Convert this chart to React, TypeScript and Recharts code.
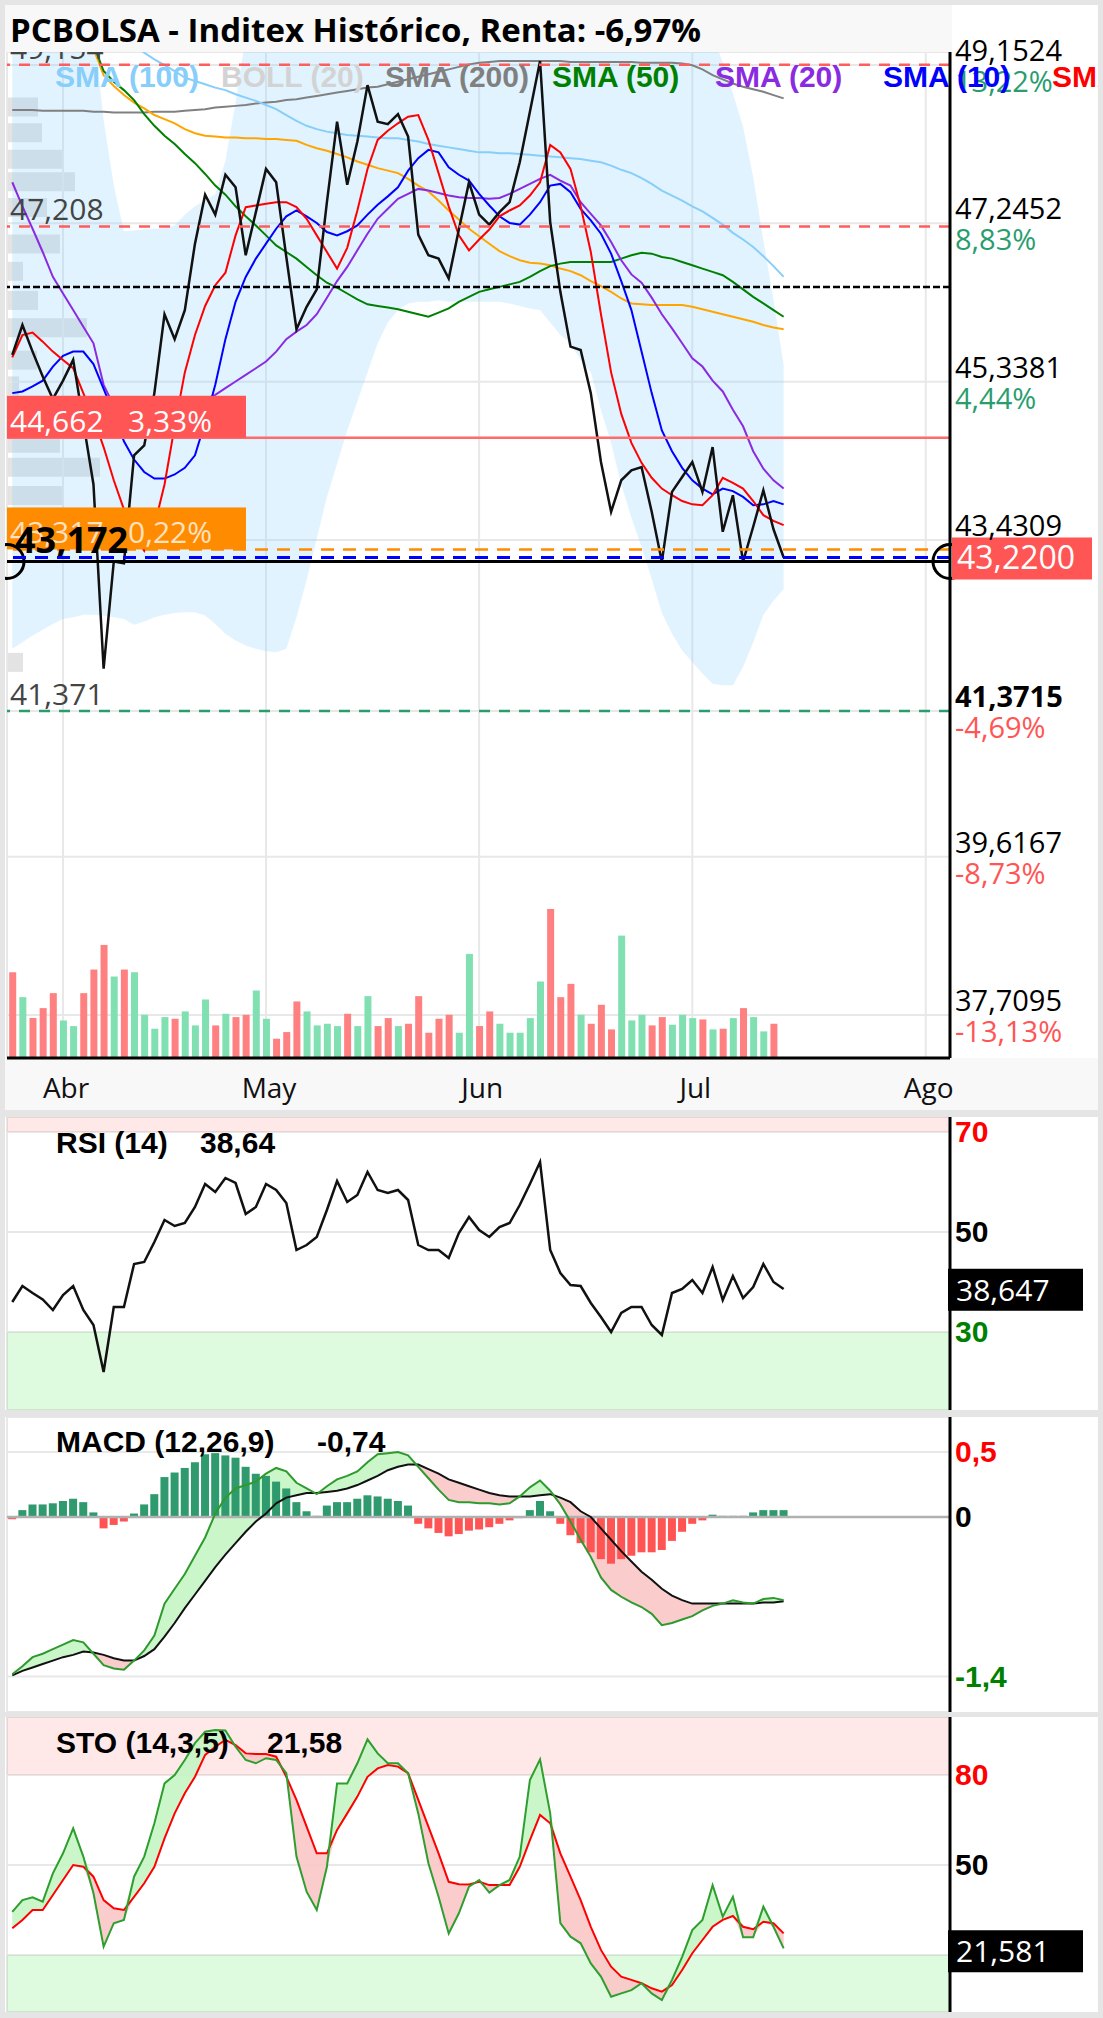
import React from 'react'
import {
  ComposedChart,
  Line,
  Area,
  Bar,
  Cell,
  XAxis,
  YAxis,
  CartesianGrid,
  ReferenceLine,
  ReferenceArea,
} from 'recharts'

// x = trading-session index, 0 = 1 Apr 2025 (first session shown is 5 sessions earlier)
const FIRST_DAY = -5

const monthTicks = [0, 20, 41, 62, 85]
const monthLabels = ['Abr', 'May', 'Jun', 'Jul', 'Ago']

const close = [
  45.66, 46.02, 45.7, 45.4, 45.13, 45.35, 45.6, 44.85, 44.1, 41.88,
  43.17, 43.15, 44.45, 44.57, 45.2, 46.15, 45.85, 46.2, 47.0, 47.59,
  47.35, 47.83, 47.68, 46.86, 47.38, 47.9, 47.74, 46.84, 45.97, 46.24,
  46.45, 47.5, 48.47, 47.71, 48.23, 48.91, 48.47, 48.44, 48.56, 48.29,
  47.11, 46.86, 46.82, 46.58, 47.17, 47.74, 47.35, 47.23, 47.38, 47.5,
  47.98, 48.59, 49.2, 47.26, 46.42, 45.76, 45.72, 45.2, 44.37, 43.77,
  44.15, 44.27, 44.31, 43.77, 43.17, 44.01, 44.19, 44.37, 44.01, 44.55,
  43.53, 43.97, 43.17, 43.59, 44.03, 43.56, 43.22,
]

const bollUpper = [
  49.7, 49.7, 49.7, 49.7, 49.7, 49.7, 49.7, 49.7, 49.6, 48.49,
  47.7, 47.15, 47.16, 47.17, 47.18, 47.19, 47.22, 47.35, 47.45, 47.52,
  47.6, 48.0, 48.7, 49.5, 49.9, 50.2, 50.4, 50.5, 50.5, 50.4,
  50.3, 50.3, 50.4, 50.5, 50.6, 50.7, 50.8, 50.8, 50.7, 50.6,
  50.4, 50.2, 50.0, 49.9, 49.8, 49.8, 49.8, 49.8, 49.8, 49.9,
  50.1, 50.4, 50.6, 50.7, 50.7, 50.6, 50.5, 50.3, 50.1, 49.9,
  49.8, 49.7, 49.6, 49.6, 49.55, 49.55, 49.5, 49.5, 49.5, 49.5,
  49.19, 48.81, 48.41, 47.8, 47.04, 46.32, 45.54,
]

const bollLower = [
  42.12, 42.2, 42.28, 42.35, 42.42, 42.48, 42.5, 42.53, 42.53, 42.52,
  42.5, 42.48, 42.41, 42.45, 42.5, 42.53, 42.55, 42.56, 42.56, 42.52,
  42.42, 42.3, 42.22, 42.16, 42.12, 42.09, 42.08, 42.12, 42.5, 42.95,
  43.45, 43.95, 44.35, 44.75, 45.1, 45.45, 45.8, 46.05, 46.2, 46.28,
  46.3, 46.3, 46.32, 46.3, 46.3, 46.3, 46.3, 46.3, 46.3, 46.28,
  46.25, 46.22, 46.2, 46.05, 45.9, 45.8, 45.6, 45.45, 45.0, 44.6,
  44.1, 43.7, 43.35, 42.96, 42.55, 42.3, 42.1, 41.96, 41.82, 41.7,
  41.68, 41.68, 41.9, 42.2, 42.53, 42.7, 42.84,
]

const smaRed = [
  45.63, 45.9, 45.93, 45.82, 45.7, 45.6, 45.5, 45.2, 44.9, 44.55,
  44.15, 43.8, 43.5, 43.3, 43.6, 44.1, 44.8, 45.45, 45.9, 46.25,
  46.5, 46.65, 47.1, 47.44, 47.46, 47.48, 47.5, 47.5, 47.44, 47.3,
  47.1, 46.9, 46.7, 46.95, 47.4, 47.9, 48.25, 48.36, 48.45, 48.53,
  48.55, 48.25, 47.85, 47.45, 47.1, 46.92, 47.05, 47.17, 47.33, 47.4,
  47.46, 47.58, 47.74, 48.19, 48.1, 47.9, 47.45, 46.9, 46.15, 45.45,
  44.95, 44.6, 44.36, 44.18, 44.05, 43.97, 43.9, 43.86, 43.85, 43.97,
  44.18, 44.12, 44.05, 43.9, 43.73, 43.66, 43.61,
]

const sma10 = [
  45.2, 45.22, 45.28, 45.35, 45.52, 45.65, 45.7, 45.7, 45.55, 45.25,
  44.95, 44.62, 44.4, 44.25, 44.17, 44.17, 44.22, 44.3, 44.45, 44.85,
  45.3, 45.85, 46.3, 46.6, 46.82, 47.0, 47.18, 47.33, 47.4, 47.33,
  47.25, 47.14, 47.1, 47.15, 47.22, 47.35, 47.47, 47.57, 47.68, 47.88,
  48.03, 48.13, 48.1, 47.92, 47.83, 47.76, 47.6, 47.46, 47.33, 47.25,
  47.23, 47.35, 47.5, 47.7, 47.72, 47.62, 47.42, 47.28, 47.12, 46.88,
  46.55, 46.2, 45.7, 45.2, 44.75, 44.5, 44.3, 44.15, 44.05, 43.98,
  44.05, 44.02, 43.95, 43.85, 43.86, 43.9, 43.86,
]

const sma20 = [
  47.74, 47.45, 47.18, 46.9, 46.6, 46.4, 46.2, 46.0, 45.8, 45.3,
  45.05, 44.95, 44.9, 44.88, 44.88, 44.9, 44.95, 45.0, 45.05, 45.12,
  45.18, 45.26, 45.34, 45.42, 45.5, 45.58, 45.7, 45.85, 45.94, 46.02,
  46.15, 46.35, 46.55, 46.72, 46.92, 47.12, 47.3, 47.42, 47.54, 47.6,
  47.66, 47.64, 47.61, 47.58, 47.56, 47.55, 47.55, 47.54, 47.55, 47.6,
  47.66, 47.72, 47.78, 47.83, 47.76, 47.7, 47.5, 47.36, 47.22, 47.02,
  46.8, 46.63, 46.53, 46.35, 46.15, 45.98, 45.8, 45.62, 45.52, 45.35,
  45.22, 45.0, 44.8, 44.5, 44.29, 44.15, 44.05,
]

const sma50 = [
  null, null, null, null, null, null, null, null, 49.4, 49.08,
  48.95, 48.85, 48.73, 48.56, 48.42, 48.3, 48.2, 48.08, 47.97, 47.84,
  47.7, 47.59, 47.45, 47.33, 47.22, 47.1, 46.98, 46.9, 46.82, 46.72,
  46.62, 46.53, 46.47, 46.4, 46.33, 46.27, 46.25, 46.23, 46.21, 46.18,
  46.15, 46.12, 46.17, 46.22, 46.3, 46.36, 46.42, 46.45, 46.48, 46.51,
  46.54, 46.6, 46.67, 46.73, 46.76, 46.78, 46.78, 46.78, 46.78, 46.78,
  46.82, 46.86, 46.89, 46.88, 46.84, 46.82, 46.78, 46.74, 46.7, 46.66,
  46.62, 46.54, 46.45, 46.36, 46.28, 46.2, 46.12,
]

const smaOrange = [
  null, null, null, null, null, null, null, null, 49.35, 49.03,
  48.9, 48.79, 48.7, 48.63, 48.55, 48.5, 48.45, 48.38, 48.33, 48.3,
  48.29, 48.28, 48.28, 48.27, 48.27, 48.26, 48.26, 48.25, 48.24, 48.19,
  48.15, 48.12, 48.08, 48.04, 47.99, 47.95, 47.91, 47.88, 47.85, 47.78,
  47.7, 47.63, 47.52, 47.4, 47.29, 47.18, 47.09, 47.0, 46.91, 46.85,
  46.8, 46.77, 46.76, 46.74, 46.7, 46.67, 46.62, 46.55, 46.49, 46.42,
  46.34, 46.28, 46.27, 46.26, 46.26, 46.26, 46.26, 46.24, 46.21, 46.18,
  46.15, 46.12, 46.09, 46.06, 46.02, 45.99, 45.97,
]

const sma100 = [
  null, null, null, null, null, null, null, null, null, null,
  null, 49.5, 49.38, 49.3, 49.22, 49.15, 49.08, 49.0, 48.96, 48.92,
  48.88, 48.85, 48.8, 48.76, 48.72, 48.67, 48.62, 48.55, 48.48, 48.42,
  48.38, 48.35, 48.33, 48.31, 48.3, 48.29, 48.28, 48.27, 48.27, 48.25,
  48.23, 48.2, 48.18, 48.16, 48.14, 48.12, 48.1, 48.1, 48.09, 48.09,
  48.08, 48.07, 48.06, 48.05, 48.04, 48.03, 48.02, 48.0, 47.98, 47.94,
  47.89, 47.85, 47.79, 47.72, 47.64, 47.58, 47.52, 47.45, 47.39, 47.31,
  47.23, 47.13, 47.05, 46.96, 46.85, 46.73, 46.6,
]

const sma200 = [
  48.61, 48.61, 48.61, 48.6, 48.6, 48.6, 48.6, 48.6, 48.59, 48.59,
  48.58, 48.58, 48.58, 48.58, 48.59, 48.59, 48.59, 48.6, 48.61, 48.62,
  48.64, 48.65, 48.66, 48.67, 48.69, 48.7, 48.71, 48.73, 48.74, 48.76,
  48.78, 48.8, 48.82, 48.84, 48.86, 48.88, 48.89, 48.92, 48.95, 48.98,
  49.01, 49.04, 49.07, 49.1, 49.13, 49.16, 49.18, 49.19, 49.2, 49.2,
  49.2, 49.2, 49.2, 49.2, 49.2, 49.19, 49.19, 49.19, 49.19, 49.19,
  49.19, 49.19, 49.18, 49.18, 49.18, 49.18, 49.17, 49.15, 49.1, 49.03,
  48.98, 48.93, 48.89, 48.86, 48.83, 48.79, 48.75,
]

// volume in millions of shares; 1 = up session (green), 0 = down (red)
const volume = [
  5.16, 3.66, 2.4, 3.0, 3.9, 2.26, 1.92, 3.9, 5.32, 6.8,
  4.9, 5.32, 5.16, 2.6, 1.76, 2.46, 2.36, 2.8, 1.96, 3.52,
  1.96, 2.66, 2.46, 2.6, 4.06, 2.36, 1.16, 1.56, 3.4, 2.8,
  1.96, 2.06, 1.92, 2.66, 1.92, 3.72, 1.92, 2.4, 1.92, 2.06,
  3.72, 1.52, 2.36, 2.6, 1.52, 6.26, 1.92, 2.8, 2.06, 1.52,
  1.52, 2.4, 4.6, 8.96, 3.66, 4.46, 2.6, 2.06, 3.2, 1.72,
  7.36, 2.26, 2.6, 1.96, 2.46, 2.0, 2.6, 2.4, 2.32, 1.72,
  1.76, 2.4, 3.0, 2.46, 1.6, 2.06, null,
]
const volumeUp = [
  0, 1, 0, 0, 0, 1, 1, 0, 0, 0,
  1, 0, 1, 1, 1, 1, 0, 1, 1, 1,
  0, 1, 0, 0, 1, 1, 0, 0, 0, 1,
  1, 1, 1, 0, 1, 1, 0, 0, 1, 0,
  0, 0, 0, 0, 1, 1, 0, 0, 1, 1,
  1, 1, 1, 0, 0, 0, 1, 0, 0, 0,
  1, 1, 1, 0, 0, 1, 1, 1, 0, 1,
  0, 1, 0, 1, 1, 0, 0,
]

// volume-by-price profile on the left edge
const profileLevels = [48.65, 48.34, 48.02, 47.75, 47.44, 47.0, 46.67, 46.32, 45.99, 45.6, 45.29, 44.6, 44.31, 43.97, 41.96]
const profileVolume = [31, 35, 56, 68, 40, 53, 16, 31, 80, 30, 12, 53, 93, 55, 16]

const rsi = [
  36, 39.2, 37.8, 36.5, 34.4, 37.4, 39.2, 34.4, 31.4, 22,
  35, 35, 43.6, 44, 48, 52.4, 51.2, 51.8, 55, 59.6,
  58, 60.8, 59.8, 53.6, 55, 59.6, 58.4, 55.8, 46.4, 47.4,
  49, 54.4, 60.2, 56, 57.4, 62, 58.4, 57.8, 58.4, 56.4,
  47.4, 46.4, 46.4, 44.8, 49.8, 53, 50.4, 49, 51, 51.8,
  55.4, 59.6, 64, 46.4, 41.8, 39.4, 39.2, 35.8, 33, 30,
  33.8, 35, 35, 31.4, 29.4, 37.8, 38.6, 40.4, 37.8, 43,
  36.4, 41.2, 36.8, 39, 43.6, 40, 38.6,
]

const macd = [
  -1.38, -1.31, -1.23, -1.2, -1.16, -1.12, -1.08, -1.1, -1.2, -1.3,
  -1.33, -1.34, -1.26, -1.17, -1.04, -0.76, -0.63, -0.5, -0.34, -0.18,
  0.03, 0.17, 0.25, 0.28, 0.31, 0.38, 0.43, 0.4, 0.3, 0.25,
  0.2, 0.27, 0.33, 0.36, 0.4, 0.48, 0.55, 0.56, 0.57, 0.54,
  0.44, 0.34, 0.24, 0.15, 0.13, 0.13, 0.12, 0.12, 0.11, 0.12,
  0.18, 0.26, 0.32, 0.23, 0.11, -0.04, -0.2, -0.35, -0.53, -0.64,
  -0.7, -0.75, -0.79, -0.85, -0.95, -0.93, -0.9, -0.87, -0.82, -0.78,
  -0.76, -0.73, -0.75, -0.76, -0.72, -0.71, -0.73,
]
const macdSignal = [
  -1.39, -1.35, -1.32, -1.29, -1.26, -1.23, -1.21, -1.18, -1.19, -1.21,
  -1.24, -1.26, -1.26, -1.22, -1.16, -1.05, -0.93, -0.8, -0.68, -0.56,
  -0.44, -0.33, -0.23, -0.13, -0.04, 0.03, 0.12, 0.17, 0.19, 0.21,
  0.21, 0.22, 0.23, 0.25, 0.28, 0.32, 0.36, 0.41, 0.44, 0.46,
  0.46, 0.42, 0.38, 0.33, 0.3, 0.27, 0.24, 0.21, 0.19, 0.18,
  0.18, 0.18, 0.19, 0.2, 0.17, 0.13, 0.05, 0, -0.1, -0.2,
  -0.3, -0.39, -0.48, -0.55, -0.63, -0.69, -0.73, -0.76, -0.76, -0.76,
  -0.76, -0.76, -0.76, -0.76, -0.75, -0.75, -0.74,
]
const macdHist = [
  -0.02, 0.06, 0.11, 0.11, 0.12, 0.14, 0.16, 0.13, 0.04, -0.1,
  -0.07, -0.04, 0.03, 0.11, 0.2, 0.35, 0.39, 0.43, 0.48, 0.55,
  0.56, 0.54, 0.52, 0.44, 0.38, 0.36, 0.31, 0.25, 0.13, 0.05,
  0.01, 0.1, 0.13, 0.13, 0.16, 0.19, 0.18, 0.16, 0.14, 0.1,
  -0.06, -0.1, -0.14, -0.17, -0.15, -0.12, -0.11, -0.09, -0.06, -0.03,
  -0.01, 0.06, 0.14, 0.05, -0.06, -0.16, -0.23, -0.31, -0.37, -0.41,
  -0.37, -0.34, -0.31, -0.31, -0.29, -0.21, -0.13, -0.06, -0.03, 0.02,
  0.01, 0.01, 0.01, 0.04, 0.06, 0.06, 0.06,
]

const stoK = [
  34.4, 38.3, 39.2, 37.8, 47.2, 53.9, 62.2, 52.8, 40.6, 22.8,
  30.6, 31.7, 46.1, 52.8, 63.9, 77.2, 80, 85, 90.6, 94.4,
  95, 94.8, 89.4, 85, 83.9, 85.6, 85, 80.6, 52.8, 41.1,
  35, 49.4, 77.2, 77.2, 83.9, 91.9, 87.2, 83.9, 83.9, 80.6,
  67.2, 50.6, 39.4, 27.2, 33.9, 42.8, 45, 40.8, 43.3, 45,
  52.8, 78.3, 85.2, 67.2, 30.6, 26.1, 23.9, 17.2, 12.8, 6.1,
  7.2, 8.3, 10.6, 7.2, 5, 11.7, 19.4, 28.3, 31.7, 43.3,
  32.8, 39.4, 25.9, 25.9, 36.1, 29.4, 22.2,
]
const stoD = [
  28.9, 31.7, 35, 35, 40, 45, 50, 49.4, 46.1, 38.3,
  35.6, 35, 39.4, 43.9, 49.4, 58.9, 67.2, 73.9, 79.4, 86.7,
  89.4, 91.7, 90, 87.2, 87, 87, 86.1, 79.4, 71.7, 62.8,
  53.9, 53.9, 61.7, 67.2, 72.8, 79.4, 82.2, 83.3, 82.8, 80.6,
  71.7, 62.8, 53.9, 44.4, 43.6, 43.5, 44.4, 43.3, 43.3, 43.3,
  49.4, 58.3, 66.7, 63.9, 53.9, 46.1, 38.3, 29.4, 21.7, 16.1,
  12.8, 11.7, 10.6, 8.9, 7.8, 10, 15, 20.6, 25, 29.4,
  31.7, 33, 29.4, 28.6, 31.1, 30.6, 27.2,
]

// right-hand price scale
const priceTicks = [49.1524, 47.2452, 45.3381, 43.4309, 41.3715, 39.6167, 37.7095]
const priceTickPct = ['13,22%', '8,83%', '4,44%', '', '-4,69%', '-8,73%', '-13,13%']

// marked levels
const periodHigh = 49.154
const resistance = 47.208
const dottedLevel = 46.478
const alertLevel = 44.662
const alertPct = '3,33%'
const avgLevel = 43.317
const avgPct = '0,22%'
const cursorLevel = 43.172
const lastPrice = 43.22
const periodLow = 41.371
const periodLowTick = 41.3715

const rsiTicks = [70, 50, 30]
const macdTicks = [0.57, 0, -1.4]
const stoTicks = [80, 50, 20]

const rsiLast = 38.647
const stoLast = 21.581
const rsiHeader = '38,64'
const macdHeader = '-0,74'
const stoHeader = '21,58'

const title = 'PCBOLSA - Inditex Histórico, Renta: -6,97%'
const legendNames = ['SMA (100)', 'BOLL (20)', 'SMA (200)', 'SMA (50)', 'SMA (20)', 'SMA (10)', 'SMA (5)']
const legendColors = ['#87cefa', '#d3d3d3', '#808080', '#008000', '#8a2be2', '#0000ff', '#ff0000']
const legendX = [55, 221, 385, 552, 715, 883, 1052]

const rows = close.map((c, k) => ({
  i: FIRST_DAY + k,
  close: c,
  band: [bollLower[k], bollUpper[k]],
  s5: smaRed[k],
  s10: sma10[k],
  s20: sma20[k],
  s50: sma50[k],
  sOr: smaOrange[k],
  s100: sma100[k],
  s200: sma200[k],
  vol: volume[k],
  up: volumeUp[k] === 1,
  rsi: rsi[k],
  macd: macd[k],
  signal: macdSignal[k],
  hist: macdHist[k],
  macdUp: [macdSignal[k], Math.max(macd[k], macdSignal[k])],
  macdDown: [Math.min(macd[k], macdSignal[k]), macdSignal[k]],
  k: stoK[k],
  d: stoD[k],
  stoUp: [stoD[k], Math.max(stoK[k], stoD[k])],
  stoDown: [Math.min(stoK[k], stoD[k]), stoD[k]],
}))

const profileRows = profileLevels.map((p, k) => ({ level: p, vol: profileVolume[k] }))

const W = 1103
const X_DOMAIN: [number, number] = [-5.52, 87.39]
const PRICE_DOMAIN: [number, number] = [37.191, 49.309]
const RSI_DOMAIN: [number, number] = [14.4, 73]
const MACD_DOMAIN: [number, number] = [-1.711, 0.877]
const STO_DOMAIN: [number, number] = [1, 99.33]

const SANS = '"Open Sans", "Noto Sans", sans-serif'
const ARIAL = '"Liberation Sans", Arial, sans-serif'
const GRID = '#e8e8e8'
const UP_PCT = '#2a9d6f'
const DOWN_PCT = '#ff5555'

const fmt = (v: number, d: number) => v.toFixed(d).replace('.', ',')
const fmtTrunc = (v: number) => (Math.trunc(v * 10) / 10).toString().replace('.', ',')

function MonthTick(props: any) {
  const { x, y, payload } = props
  const label = monthLabels[monthTicks.indexOf(payload.value)]
  return (
    <text x={x + 3} y={y + 40} textAnchor="middle" fontSize={28} fontFamily={SANS} fill="#111">
      {label}
    </text>
  )
}

function PriceTick(props: any) {
  const { x, y, payload } = props
  const v = payload.value
  const pct = priceTickPct[priceTicks.indexOf(v)] || ''
  return (
    <g>
      <text x={x} y={y - 4} fontSize={29} fontFamily={SANS} fontWeight={v === periodLowTick ? 700 : 400} fill="#000">
        {fmt(v, 4)}
      </text>
      {pct && (
        <text x={x} y={y + 27} fontSize={29} fontFamily={SANS} fill={pct.startsWith('-') ? DOWN_PCT : UP_PCT}>
          {pct}
        </text>
      )}
    </g>
  )
}

const sideTick = (ticks: number[], colors: string[], format: (v: number) => string, skip: number[] = []) =>
  function SideTick(props: any) {
    const v = props.payload.value
    if (skip.includes(v)) return <g />
    return (
      <text x={props.x} y={props.y + 10} fontSize={30} fontWeight={700} fontFamily={ARIAL} fill={colors[ticks.indexOf(v)]}>
        {format(v)}
      </text>
    )
  }

const vbOf = (p: any) => p.viewBox ?? p

const levelText = (text: string) =>
  function LevelText(p: any) {
    const vb = vbOf(p)
    return (
      <text x={vb.x + 3} y={vb.y - 6} fontSize={30} fontFamily={SANS} fill="#444">
        {text}
      </text>
    )
  }

const levelBox = (value: string, pct: string, bg: string, fg: string) =>
  function LevelBox(p: any) {
    const vb = vbOf(p)
    return (
      <g>
        <rect x={vb.x} y={vb.y - 42} width={239} height={42} fill={bg} />
        <text x={vb.x + 3} y={vb.y - 6} fontSize={30} fontFamily={SANS} fill={fg}>
          {value}
        </text>
        <text x={vb.x + 121} y={vb.y - 6} fontSize={30} fontFamily={SANS} fill={fg}>
          {pct}
        </text>
      </g>
    )
  }

function CursorLabel(p: any) {
  const vb = vbOf(p)
  return (
    <g>
      <circle cx={vb.x} cy={vb.y} r={17} fill="none" stroke="#000" strokeWidth={3} />
      <circle cx={vb.x + vb.width} cy={vb.y} r={17} fill="none" stroke="#000" strokeWidth={3} />
      <text x={vb.x + 8} y={vb.y - 8} fontSize={36} fontWeight={700} fontFamily={SANS} fill="#000">
        {fmt(cursorLevel, 3)}
      </text>
    </g>
  )
}

function LastPriceBox(p: any) {
  const vb = vbOf(p)
  const x = vb.x + vb.width + 2
  return (
    <g>
      <rect x={x} y={vb.y - 20} width={140} height={42} fill="#ff5555" />
      <text x={x + 5} y={vb.y + 12} fontSize={32} fontFamily={SANS} fill="#fff">
        {fmt(lastPrice, 4)}
      </text>
    </g>
  )
}

const valueBox = (value: number) =>
  function ValueBox(p: any) {
    const vb = vbOf(p)
    const x = vb.x + vb.width - 2
    return (
      <g>
        <rect x={x} y={vb.y - 20} width={135} height={42} fill="#000" />
        <text x={x + 8} y={vb.y + 12} fontSize={30} fontFamily={SANS} fill="#fff">
          {fmt(value, 3)}
        </text>
      </g>
    )
  }

function PriceChart() {
  return (
    <ComposedChart width={W} height={1110} data={rows} margin={{ top: 52, right: 0, bottom: 0, left: 7 }}>
      <CartesianGrid yAxisId="price" stroke={GRID} strokeWidth={2} />
      <XAxis
        dataKey="i"
        type="number"
        domain={X_DOMAIN}
        allowDataOverflow
        ticks={monthTicks}
        interval={0}
        height={52}
        tickSize={0}
        tickMargin={0}
        tickLine={false}
        axisLine={{ stroke: '#000', strokeWidth: 3 }}
        tick={MonthTick}
      />
      <YAxis
        yAxisId="price"
        orientation="right"
        type="number"
        domain={PRICE_DOMAIN}
        allowDataOverflow
        ticks={priceTicks}
        interval={0}
        width={153}
        tickSize={0}
        tickMargin={5}
        tickLine={false}
        axisLine={{ stroke: '#000', strokeWidth: 3 }}
        tick={PriceTick}
      />
      <YAxis yAxisId="vol" hide domain={[0, 60.5]} />
      <Area yAxisId="price" dataKey="band" stroke="none" fill="#87cefa" fillOpacity={0.25} isAnimationActive={false} />
      <Bar yAxisId="vol" dataKey="vol" barSize={7} isAnimationActive={false}>
        {rows.map((r) => (
          <Cell key={r.i} fill={r.up ? '#80e0b2' : '#ff8080'} />
        ))}
      </Bar>
      <Line yAxisId="price" dataKey="s200" stroke="#808080" strokeWidth={2} dot={false} isAnimationActive={false} />
      <Line yAxisId="price" dataKey="s100" stroke="#87cefa" strokeWidth={2} dot={false} isAnimationActive={false} />
      <Line yAxisId="price" dataKey="sOr" stroke="#ffa500" strokeWidth={2} dot={false} isAnimationActive={false} />
      <Line yAxisId="price" dataKey="s50" stroke="#008000" strokeWidth={2} dot={false} isAnimationActive={false} />
      <Line yAxisId="price" dataKey="s20" stroke="#8a2be2" strokeWidth={2} dot={false} isAnimationActive={false} />
      <Line yAxisId="price" dataKey="s10" stroke="#0000ff" strokeWidth={2} dot={false} isAnimationActive={false} />
      <Line yAxisId="price" dataKey="s5" stroke="#ff0000" strokeWidth={2} dot={false} isAnimationActive={false} />
      <Line yAxisId="price" dataKey="close" stroke="#111" strokeWidth={2.5} dot={false} isAnimationActive={false} />

      <ReferenceLine yAxisId="price" y={periodHigh} stroke="#ff5c5c" strokeWidth={2.5} strokeDasharray="11 9" label={levelText(fmt(periodHigh, 3))} />
      <ReferenceLine yAxisId="price" y={resistance} stroke="#ff5c5c" strokeWidth={2.5} strokeDasharray="11 9" label={levelText(fmt(resistance, 3))} />
      <ReferenceLine yAxisId="price" y={dottedLevel} stroke="#000" strokeWidth={2.5} strokeDasharray="7 3" />
      <ReferenceLine yAxisId="price" y={alertLevel} stroke="#ff6b6b" strokeWidth={2.5} label={levelBox(fmt(alertLevel, 3), alertPct, '#ff5555', '#fff')} />
      <ReferenceLine yAxisId="price" y={avgLevel} stroke="#ff8c00" strokeWidth={2.5} strokeDasharray="13 9" label={levelBox(fmt(avgLevel, 3), avgPct, '#ff8c00', 'rgba(255,255,255,0.75)')} />
      <ReferenceLine yAxisId="price" y={periodLow} stroke={UP_PCT} strokeWidth={2.5} strokeDasharray="11 9" label={levelText(fmt(periodLow, 3))} />
      <ReferenceLine yAxisId="price" y={cursorLevel} stroke="#000" strokeWidth={3} label={CursorLabel} />
      <ReferenceLine yAxisId="price" y={lastPrice} stroke="#0000ff" strokeWidth={3} strokeDasharray="13 9" label={LastPriceBox} />
    </ComposedChart>
  )
}

function ProfileChart() {
  return (
    <ComposedChart layout="vertical" width={W} height={1110} data={profileRows} margin={{ top: 52, right: 153, bottom: 52, left: 7 }}>
      <XAxis type="number" domain={[0, 943]} hide />
      <YAxis type="number" dataKey="level" domain={PRICE_DOMAIN} allowDataOverflow reversed hide />
      <Bar dataKey="vol" barSize={19} fill="#c0c0c0" fillOpacity={0.45} isAnimationActive={false} />
    </ComposedChart>
  )
}

const xAxisHidden = (
  <XAxis dataKey="i" type="number" domain={X_DOMAIN} allowDataOverflow ticks={monthTicks} interval={0} height={0} tick={false} tickLine={false} axisLine={false} />
)

function RsiChart() {
  return (
    <ComposedChart width={W} height={293} data={rows} margin={{ top: 0, right: 0, bottom: 0, left: 7 }}>
      <ReferenceArea yAxisId="rsi" y1={70} y2={RSI_DOMAIN[1]} fill="rgb(255,0,0)" fillOpacity={0.09} stroke="none" />
      <ReferenceArea yAxisId="rsi" y1={RSI_DOMAIN[0]} y2={30} fill="rgb(0,224,0)" fillOpacity={0.125} stroke="none" />
      <CartesianGrid yAxisId="rsi" stroke={GRID} strokeWidth={2} />
      {xAxisHidden}
      <YAxis
        yAxisId="rsi"
        orientation="right"
        type="number"
        domain={RSI_DOMAIN}
        allowDataOverflow
        ticks={rsiTicks}
        interval={0}
        width={153}
        tickSize={0}
        tickMargin={5}
        tickLine={false}
        axisLine={{ stroke: '#000', strokeWidth: 3 }}
        tick={sideTick(rsiTicks, ['#ff0000', '#000', '#008000'], (v) => String(v))}
      />
      <Line yAxisId="rsi" dataKey="rsi" stroke="#111" strokeWidth={2.5} dot={false} isAnimationActive={false} />
      <ReferenceLine yAxisId="rsi" y={rsiLast} stroke="none" label={valueBox(rsiLast)} />
    </ComposedChart>
  )
}

function MacdChart() {
  return (
    <ComposedChart width={W} height={295} data={rows} margin={{ top: 0, right: 0, bottom: 0, left: 7 }}>
      <CartesianGrid yAxisId="macd" stroke={GRID} strokeWidth={2} />
      {xAxisHidden}
      <YAxis
        yAxisId="macd"
        orientation="right"
        type="number"
        domain={MACD_DOMAIN}
        allowDataOverflow
        ticks={macdTicks}
        interval={0}
        width={153}
        tickSize={0}
        tickMargin={5}
        tickLine={false}
        axisLine={{ stroke: '#000', strokeWidth: 3 }}
        tick={sideTick(macdTicks, ['#ff0000', '#000', '#008000'], fmtTrunc)}
      />
      <ReferenceLine yAxisId="macd" y={0} stroke="#b0b0b0" strokeWidth={2.5} />
      <Bar yAxisId="macd" dataKey="hist" barSize={8} isAnimationActive={false}>
        {rows.map((r) => (
          <Cell key={r.i} fill={r.hist >= 0 ? '#2e9a6e' : '#ff5454'} />
        ))}
      </Bar>
      <Area yAxisId="macd" dataKey="macdUp" stroke="none" fill="#c4f5c4" fillOpacity={0.9} isAnimationActive={false} />
      <Area yAxisId="macd" dataKey="macdDown" stroke="none" fill="#f9c6c6" fillOpacity={0.9} isAnimationActive={false} />
      <Line yAxisId="macd" dataKey="signal" stroke="#111" strokeWidth={2} dot={false} isAnimationActive={false} />
      <Line yAxisId="macd" dataKey="macd" stroke="#2e9a2e" strokeWidth={2} dot={false} isAnimationActive={false} />
    </ComposedChart>
  )
}

function StoChart() {
  return (
    <ComposedChart width={W} height={295} data={rows} margin={{ top: 0, right: 0, bottom: 0, left: 7 }}>
      <ReferenceArea yAxisId="sto" y1={80} y2={STO_DOMAIN[1]} fill="rgb(255,0,0)" fillOpacity={0.09} stroke="none" />
      <ReferenceArea yAxisId="sto" y1={STO_DOMAIN[0]} y2={20} fill="rgb(0,224,0)" fillOpacity={0.125} stroke="none" />
      <CartesianGrid yAxisId="sto" stroke={GRID} strokeWidth={2} />
      {xAxisHidden}
      <YAxis
        yAxisId="sto"
        orientation="right"
        type="number"
        domain={STO_DOMAIN}
        allowDataOverflow
        ticks={stoTicks}
        interval={0}
        width={153}
        tickSize={0}
        tickMargin={5}
        tickLine={false}
        axisLine={{ stroke: '#000', strokeWidth: 3 }}
        tick={sideTick(stoTicks, ['#ff0000', '#000', '#008000'], (v) => String(v), [20])}
      />
      <Area yAxisId="sto" dataKey="stoUp" stroke="none" fill="#c4f5c4" fillOpacity={0.9} isAnimationActive={false} />
      <Area yAxisId="sto" dataKey="stoDown" stroke="none" fill="#f9c6c6" fillOpacity={0.9} isAnimationActive={false} />
      <Line yAxisId="sto" dataKey="d" stroke="#ff0000" strokeWidth={2} dot={false} isAnimationActive={false} />
      <Line yAxisId="sto" dataKey="k" stroke="#2e9e2e" strokeWidth={2} dot={false} isAnimationActive={false} />
      <ReferenceLine yAxisId="sto" y={stoLast} stroke="none" label={valueBox(stoLast)} />
    </ComposedChart>
  )
}

function PanelLabel({ x2, y, name, value }: { x2: number; y: number; name: string; value: string }) {
  return (
    <g fontFamily={ARIAL} fontWeight={700} fontSize={30} fill="#000">
      <text x={56} y={y}>{name}</text>
      <text x={x2} y={y}>{value}</text>
    </g>
  )
}

export default function App() {
  const abs = (top: number): React.CSSProperties => ({ position: 'absolute', left: 0, top })
  return (
    <div style={{ position: 'absolute', left: 0, top: 0, width: W, height: 2018, background: '#fff', overflow: 'hidden' }}>
      <div style={{ position: 'absolute', left: 5, top: 1058, width: 1093, height: 52, background: '#f8f8f8' }} />
      <div style={abs(0)}>
        <ProfileChart />
      </div>
      <div style={abs(0)}>
        <PriceChart />
      </div>
      <div style={abs(1117)}>
        <RsiChart />
      </div>
      <div style={abs(1417)}>
        <MacdChart />
      </div>
      <div style={abs(1717)}>
        <StoChart />
      </div>
      <svg width={W} height={2018} style={{ position: 'absolute', left: 0, top: 0, pointerEvents: 'none' }}>
        <rect x={5} y={5} width={947} height={47} fill="#f8f8f8" />
        <text x={10} y={42} fontSize={33} fontWeight={700} fontFamily={SANS} fill="#000">
          {title}
        </text>
        {legendNames.map((n, k) => (
          <text key={n} x={legendX[k]} y={87} fontSize={30} fontWeight={700} fontFamily={ARIAL} fill={legendColors[k]}>
            {n}
          </text>
        ))}
        <PanelLabel y={1153} x2={200} name="RSI (14)" value={rsiHeader} />
        <PanelLabel y={1452} x2={317} name="MACD (12,26,9)" value={macdHeader} />
        <PanelLabel y={1753} x2={267} name="STO (14,3,5)" value={stoHeader} />
        <rect x={0} y={1110} width={W} height={7} fill="#e5e5e5" />
        <rect x={0} y={1410} width={W} height={7} fill="#e5e5e5" />
        <rect x={0} y={1712} width={W} height={5} fill="#e5e5e5" />
        <rect x={0} y={0} width={W} height={5} fill="#e5e5e5" />
        <rect x={0} y={0} width={5} height={2018} fill="#e5e5e5" />
        <rect x={1098} y={0} width={5} height={2018} fill="#e5e5e5" />
        <rect x={0} y={2012} width={W} height={6} fill="#e5e5e5" />
      </svg>
    </div>
  )
}
